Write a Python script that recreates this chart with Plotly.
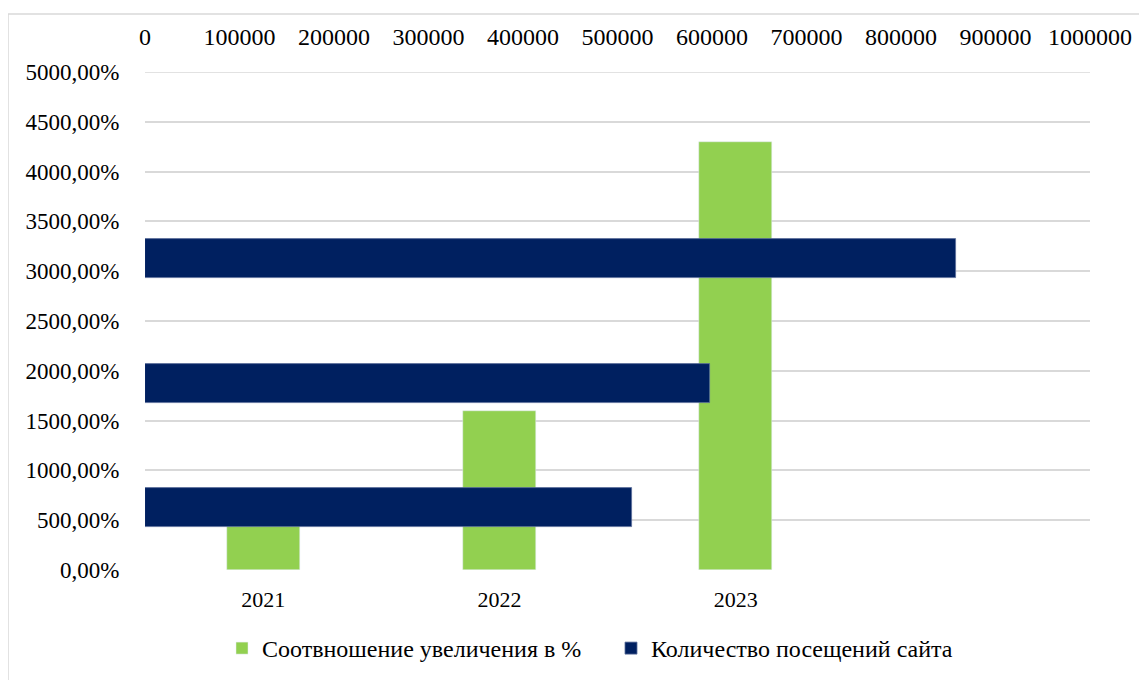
import plotly.graph_objects as go

years = ["2021", "2022", "2023"]
ratio_pct = [500, 1600, 4300]
visits = [515000, 598000, 858000]
y_ticks = [0, 500, 1000, 1500, 2000, 2500, 3000, 3500, 4000, 4500, 5000]
x2_ticks = [0, 100000, 200000, 300000, 400000, 500000, 600000, 700000, 800000, 900000, 1000000]
names = ["Соотвношение увеличения в %", "Количество посещений сайта"]

W, H = 1147, 680
OFF = 8  # page body margin
L, T = 145 - OFF, 72 - OFF
R, B = W - (1090 - OFF), H - (570 - OFF)
FONT = "Liberation Serif, Times New Roman, DejaVu Serif, serif"
CLEAR = "rgba(0,0,0,0)"
GRID = "#d9d9d9"
pw, ph = W - L - R, H - T - B

fig = go.Figure()
pos = list(range(len(years)))
fig.add_trace(go.Bar(x=pos, y=ratio_pct, name=names[0], marker_color="#92D050",
                     width=0.31, xaxis="x", yaxis="y"))
fig.add_trace(go.Bar(x=visits, y=pos, orientation="h", name=names[1],
                     marker=dict(color="#002060", line=dict(color="#5a6f9a", width=0.8)),
                     width=0.31, xaxis="x2", yaxis="y2"))

fig.update_layout(
    width=W, height=H,
    margin=dict(l=L, r=R, t=T, b=B, autoexpand=False),
    paper_bgcolor="white", plot_bgcolor="white",
    font=dict(family=FONT, size=22, color="#000000"),
    showlegend=True,
    legend=dict(orientation="h", x=(222 - 145) / pw, xanchor="left",
                y=-(626 - 570) / ph, yanchor="top",
                font=dict(family=FONT, size=24), itemwidth=30, traceorder="normal",
                entrywidth=344, entrywidthmode="pixels"),
    xaxis=dict(range=[-0.5, 3.5], tickvals=pos, ticktext=years, showgrid=False,
               zeroline=False, showline=False, ticks="outside", ticklen=10,
               tickcolor=CLEAR, automargin=False, tickfont=dict(size=22)),
    yaxis=dict(range=[0, 5000], tickvals=y_ticks,
               ticktext=[f"{v},00%" for v in y_ticks],
               showgrid=True, gridcolor=GRID, gridwidth=1.5, zeroline=False,
               showline=False, ticks="outside", ticklen=20, tickcolor=CLEAR,
               automargin=False, tickfont=dict(size=23)),
    xaxis2=dict(overlaying="x", side="top", range=[0, 1000000], tickvals=x2_ticks,
                ticktext=[str(v) for v in x2_ticks], showgrid=False, zeroline=False,
                showline=False, ticks="outside", ticklen=16, tickcolor=CLEAR,
                automargin=False, tickfont=dict(size=24)),
    yaxis2=dict(overlaying="y", side="right", range=[-0.5, 3.5], visible=False),
    bargap=0,
)
fig.add_shape(type="line", xref="paper", yref="y", x0=0, x1=1,
              y0=y_ticks[-1], y1=y_ticks[-1], line=dict(color=GRID, width=1.5),
              layer="below")
fig.add_shape(type="rect", xref="paper", yref="paper",
              x0=(0 - L) / pw, x1=(W + 20 - L) / pw,
              y0=-(H + 20 - T - ph) / ph, y1=1 + (T - 6) / ph,
              line=dict(color=GRID, width=1.5), layer="below")
fig.write_html("out.html")
